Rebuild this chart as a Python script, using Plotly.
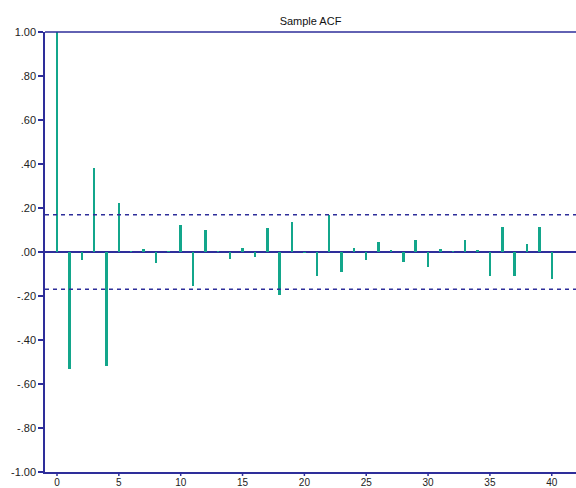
import plotly.graph_objects as go

# Sample autocorrelation by lag
lags = list(range(0, 41))
acf = [1.000, -0.532, -0.035, 0.382, -0.517, 0.221, 0.002, 0.012, -0.052, 0.002,
       0.124, -0.154, 0.101, 0.002, -0.030, 0.017, -0.024, 0.107, -0.196, 0.135,
       -0.002, -0.111, 0.170, -0.090, 0.017, -0.036, 0.044, 0.011, -0.046, 0.055,
       -0.068, 0.012, 0.002, 0.055, 0.006, -0.111, 0.114, -0.111, 0.038, 0.114,
       -0.121]
conf_bound = 0.169

y_tickvals = [1.0, 0.8, 0.6, 0.4, 0.2, 0.0, -0.2, -0.4, -0.6, -0.8, -1.0]
y_ticktext = ["1.00", ".80", ".60", ".40", ".20", ".00", "-.20", "-.40", "-.60", "-.80", "-1.00"]
x_tickvals = [0, 5, 10, 15, 20, 25, 30, 35, 40]

NAVY = "#2e2e9a"
TEAL = "#13a68b"
FONT = "Liberation Sans, Arial, sans-serif"

fig = go.Figure()
fig.add_trace(go.Bar(
    x=lags, y=acf, base=0, width=0.2,
    marker=dict(color=TEAL, line=dict(width=0)),
    showlegend=False,
))

for b in (conf_bound, -conf_bound):
    fig.add_shape(type="line", xref="paper", x0=0, x1=1, yref="y", y0=b, y1=b,
                  line=dict(color=NAVY, width=1.5, dash="4px,4px"))

# top frame line
fig.add_shape(type="line", xref="paper", x0=0, x1=1, yref="paper", y0=1, y1=1,
              line=dict(color=NAVY, width=1.5))

# short x tick marks below the axis
for t in x_tickvals:
    fig.add_shape(type="line", xref="x", x0=t, x1=t, yref="paper", y0=0, y1=-0.009,
                  line=dict(color=NAVY, width=1.5))

fig.update_layout(
    width=576, height=488,
    margin=dict(l=45, r=0, t=32, b=16, autoexpand=False),
    paper_bgcolor="white", plot_bgcolor="white",
    font=dict(family=FONT, size=11, color="#222222"),
    title=dict(text="Sample ACF", x=(45 + 576) / 2 / 576, xanchor="center",
               y=1 - 21 / 488, yanchor="middle", yref="container",
               font=dict(family=FONT, size=11, color="#111111")),
    xaxis=dict(range=[-0.97, 41.96], tickvals=x_tickvals, showgrid=False,
               showline=True, linecolor=NAVY, linewidth=1.5,
               ticks="", tickfont=dict(size=10),
               zeroline=False, fixedrange=True, automargin=False),
    yaxis=dict(range=[-1, 1], tickvals=y_tickvals, ticktext=y_ticktext, showgrid=False,
               showline=True, linecolor=NAVY, linewidth=1.5,
               ticks="outside", ticklen=5, tickcolor=NAVY, tickwidth=1.5,
               zeroline=True, zerolinecolor=NAVY, zerolinewidth=1.5, fixedrange=True,
               automargin=False),
    bargap=0,
)

fig.write_html("out.html")
